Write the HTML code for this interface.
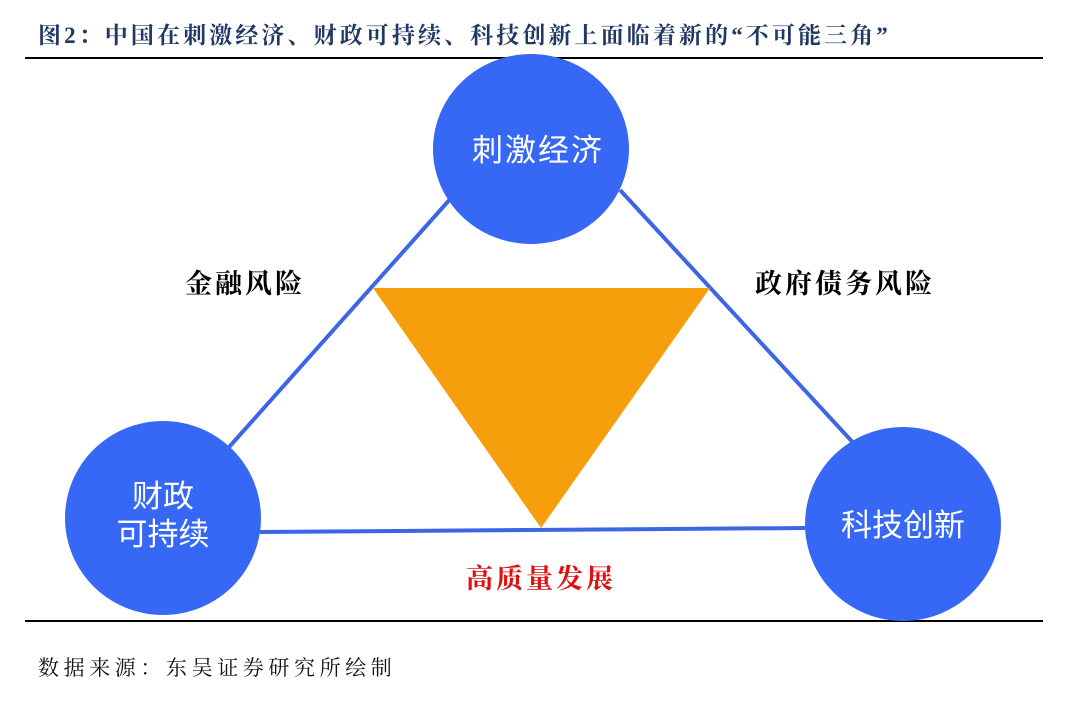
<!DOCTYPE html>
<html><head><meta charset="utf-8"><style>
body{margin:0;width:1080px;height:713px;background:#fff;overflow:hidden;position:relative;font-family:"Liberation Serif","Noto Serif CJK SC",serif}
.t{position:absolute;white-space:nowrap}
</style></head><body>
<div class="t" style="left:38px;top:17px;font-size:23px;letter-spacing:3.1px;font-weight:bold;color:#1f3864;">图2：中国在刺激经济、财政可持续、科技创新上面临着新的“不可能三角”</div>
<div style="position:absolute;left:25px;top:57px;width:1018px;height:2px;background:#000"></div>
<div style="position:absolute;left:25px;top:620px;width:1018px;height:2px;background:#000"></div>
<div class="t" style="left:38px;top:652px;font-size:21px;letter-spacing:4.6px;color:#111;">数据来源：东吴证券研究所绘制</div>
<svg width="1080" height="713" style="position:absolute;left:0;top:0">
<g stroke="#3d66e4" stroke-width="4">
<line x1="222" y1="455" x2="452" y2="197"/>
<line x1="620" y1="190" x2="858" y2="448"/>
<line x1="260" y1="532" x2="805" y2="528"/>
</g>
<polygon points="373,288 710,288 541,528" fill="#f79e0c"/>
<ellipse cx="531" cy="149" rx="98" ry="95" fill="#3668f5"/>
<ellipse cx="163" cy="518" rx="98" ry="97" fill="#3668f5"/>
<ellipse cx="903" cy="524" rx="98" ry="97" fill="#3668f5"/>
<g font-family="Liberation Sans, Noto Sans CJK SC, sans-serif" fill="#fff" font-size="31" text-anchor="middle">
<text x="538" y="161" letter-spacing="2">刺激经济</text>
<text x="163" y="507">财政</text>
<text x="163" y="545">可持续</text>
<text x="903" y="536">科技创新</text>
</g>
<g font-family="Liberation Serif, Noto Serif CJK SC, serif" font-weight="bold" font-size="27" text-anchor="middle" letter-spacing="3">
<text x="245" y="293" fill="#000">金融风险</text>
<text x="845" y="293" fill="#000">政府债务风险</text>
<text x="541" y="588" fill="#e01010">高质量发展</text>
</g>
</svg>
</body></html>
